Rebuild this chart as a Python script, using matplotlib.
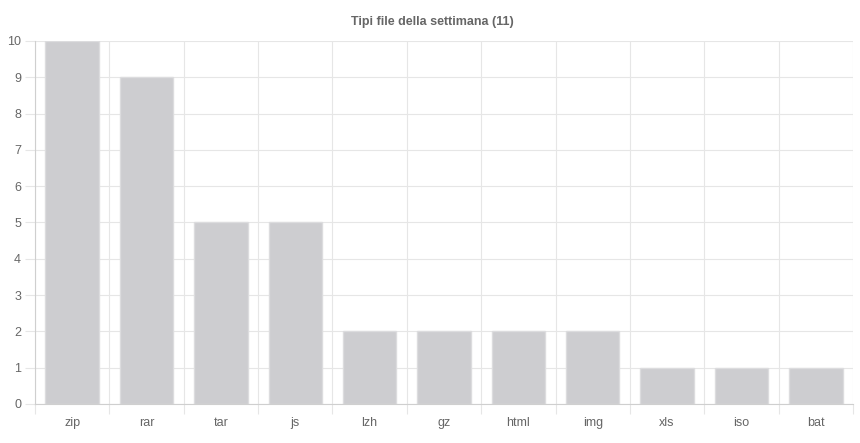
import numpy as np
import matplotlib.pyplot as plt
from matplotlib.ticker import FixedLocator

categories = ['zip', 'rar', 'tar', 'js', 'lzh', 'gz', 'html', 'img', 'xls', 'iso', 'bat']
counts = [10, 9, 5, 5, 2, 2, 2, 2, 1, 1, 1]
title = 'Tipi file della settimana (11)'

plt.rcParams['font.family'] = ['Liberation Sans', 'DejaVu Sans']
text_col = '#666666'
grid_col = '#e6e6e6'

fig = plt.figure(figsize=(8.6, 4.43), dpi=100)
ax = fig.add_axes([35/860, 39/443, 818/860, 363/443])

x = np.arange(len(categories))
ax.bar(x, counts, width=0.72, color='#cdcdd0', edgecolor='#dcdcde',
       linewidth=1.0, zorder=2)

ax.set_xlim(-0.5, len(categories) - 0.5)
ax.set_ylim(0, 10)
ax.set_xticks(x)
ax.set_xticklabels(categories)
ax.xaxis.set_minor_locator(FixedLocator(np.arange(len(categories) + 1) - 0.5))
ax.set_yticks(range(0, 11))

ax.tick_params(axis='x', which='major', length=0, pad=9.5, labelsize=9, labelcolor=text_col)
ax.tick_params(axis='x', which='minor', length=7, width=0.8, color=grid_col)
ax.tick_params(axis='y', length=7, width=0.8, color=grid_col, pad=3,
               labelsize=9, labelcolor=text_col)

ax.grid(True, which='minor', axis='x', color=grid_col, linewidth=0.8, zorder=0)
ax.grid(True, which='major', axis='y', color=grid_col, linewidth=0.8, zorder=0)

for side in ['top', 'right']:
    ax.spines[side].set_visible(False)
for side in ['left', 'bottom']:
    ax.spines[side].set_color('#cfcfcf')
    ax.spines[side].set_linewidth(0.8)

fig.text(432/860, 1 - 22/443, title, ha='center', va='center',
         fontsize=9, fontweight='bold', color=text_col)

fig.savefig('out.png', dpi=100)
